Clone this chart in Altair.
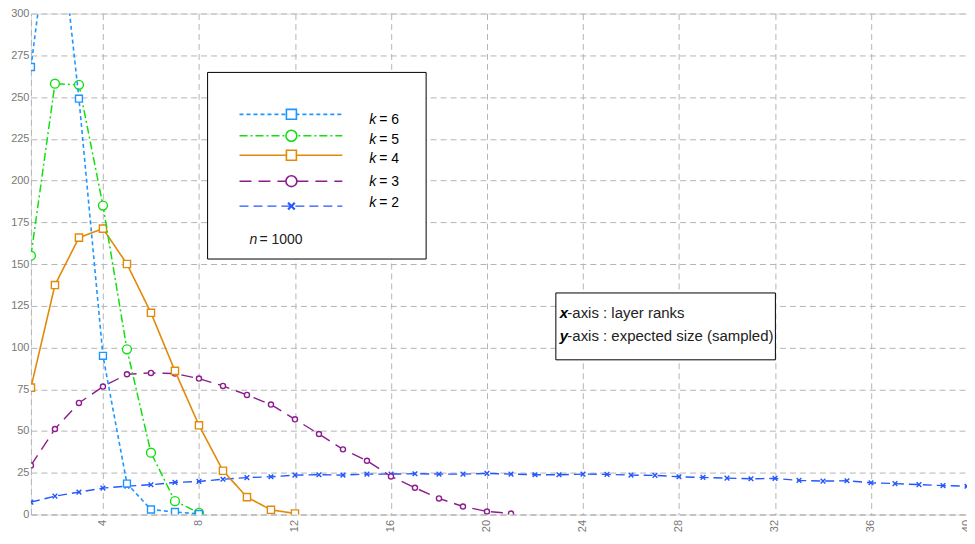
import altair as alt
import pandas as pd

# ---------------- data ----------------
ranks_k2 = list(range(1, 41))
size_k2 = [7.4, 11.0, 13.4, 15.8, 17.0, 17.8, 19.2, 19.8, 21.1, 22.1,
           22.6, 23.6, 23.8, 23.6, 24.2, 24.2, 24.4, 24.2, 24.2, 24.6,
           24.2, 23.8, 23.8, 24.2, 24.0, 23.6, 23.4, 22.6, 22.2, 21.8,
           21.4, 21.6, 20.4, 20.0, 20.2, 19.0, 18.5, 17.9, 17.3, 16.9]

ranks_k3 = list(range(1, 22))
size_k3 = [29.4, 51.2, 66.8, 76.6, 84.0, 84.8, 84.4, 81.4, 77.0, 71.6,
           65.8, 57.0, 48.2, 39.0, 32.2, 22.8, 16.0, 9.6, 4.8, 1.8, 0.6]

ranks_k4 = list(range(1, 13))
size_k4 = [76.0, 137.4, 165.8, 171.2, 150.0, 120.8, 86.0, 53.4, 26.2, 10.4, 2.8, 0.6]

ranks_k5 = list(range(1, 9))
size_k5 = [155.0, 258.0, 257.3, 185.0, 98.9, 37.0, 8.0, 1.0]

ranks_k6 = list(range(1, 9))
size_k6 = [268.0, 380.0, 249.0, 95.0, 18.5, 3.0, 1.5, 0.3]

x_ticks = [4, 8, 12, 16, 20, 24, 28, 32, 36, 40]
y_ticks = [0, 25, 50, 75, 100, 125, 150, 175, 200, 225, 250, 275, 300]

legend_labels = ["6", "5", "4", "3", "2"]
n_label = "1000"

XPATH = "M-1,-1L1,1M-1,1L1,-1"
FONT = "Liberation Sans"
GRID = "#b5b5b5"

styles = {
    "2": dict(x=ranks_k2, y=size_k2, color="#2457FF", dash=[9, 5], shape=XPATH, size=22, lsize=45, sw=1.4),
    "3": dict(x=ranks_k3, y=size_k3, color="#8C1D8C", dash=[12, 7], shape="circle", size=26, lsize=120, sw=1.4),
    "4": dict(x=ranks_k4, y=size_k4, color="#E08A0A", dash=[1, 0], shape="square", size=52, lsize=100, sw=1.6),
    "5": dict(x=ranks_k5, y=size_k5, color="#10E010", dash=[8, 3, 2, 3], shape="circle", size=80, lsize=120, sw=1.5),
    "6": dict(x=ranks_k6, y=size_k6, color="#1E96FF", dash=[4, 3], shape="square", size=48, lsize=100, sw=1.6),
}

xscale = alt.Scale(domain=[1, 40], nice=False, zero=False)
yscale = alt.Scale(domain=[0, 300], nice=False)

xaxis = alt.Axis(values=x_ticks, labelAngle=270, title=None, grid=True,
                 gridDash=[6, 4], gridColor=GRID, gridWidth=1,
                 domainDash=[6, 4], domainColor=GRID, domainWidth=1,
                 ticks=False, labelColor="#777777", labelFontSize=11,
                 labelFont=FONT, labelPadding=5)
yaxis = alt.Axis(values=y_ticks, title=None, grid=True,
                 gridDash=[6, 4], gridColor=GRID, gridWidth=1,
                 domainDash=[6, 4], domainColor=GRID, domainWidth=1,
                 ticks=False, labelColor="#777777", labelFontSize=11,
                 labelFont=FONT, labelPadding=2)

layers = []
for key in ["2", "3", "4", "5", "6"]:
    s = styles[key]
    df = pd.DataFrame({"rank": s["x"], "size": s["y"]})
    base = alt.Chart(df).encode(
        x=alt.X("rank:Q", scale=xscale, axis=xaxis),
        y=alt.Y("size:Q", scale=yscale, axis=yaxis),
    )
    line = base.mark_line(color=s["color"], strokeDash=s["dash"],
                          strokeWidth=s["sw"], clip=True)
    pts = base.mark_point(shape=s["shape"], size=s["size"], fill="white",
                          stroke=s["color"], strokeWidth=1.4, opacity=1,
                          fillOpacity=1, clip=True)
    layers += [line, pts]

# ---------------- legend box (annotation) ----------------
one = pd.DataFrame({"a": [0]})
layers.append(alt.Chart(one).mark_rect(fill="white", stroke="black", strokeWidth=1).encode(
    x=alt.value(177), x2=alt.value(396), y=alt.value(59), y2=alt.value(246)))

row_line_y = [101, 122.5, 142, 168, 193]
row_text_y = [107, 127, 146, 169, 190]
for i, key in enumerate(legend_labels):
    s = styles[key]
    layers.append(alt.Chart(one).mark_rule(color=s["color"], strokeDash=s["dash"],
                                           strokeWidth=s["sw"]).encode(
        x=alt.value(209), x2=alt.value(312), y=alt.value(row_line_y[i])))
    layers.append(alt.Chart(one).mark_point(shape=s["shape"], size=s["lsize"], fill="white",
                                            stroke=s["color"],
                                            strokeWidth=2.2 if s["shape"] == XPATH else 1.6,
                                            opacity=1, fillOpacity=1).encode(
        x=alt.value(261), y=alt.value(row_line_y[i])))
    layers.append(alt.Chart(one).mark_text(text="k", font=FONT, fontSize=14, fontStyle="italic",
                                           align="left", baseline="middle", color="black").encode(
        x=alt.value(339), y=alt.value(row_text_y[i])))
    layers.append(alt.Chart(one).mark_text(text="= " + key, font=FONT, fontSize=14,
                                           align="left", baseline="middle", color="black").encode(
        x=alt.value(349), y=alt.value(row_text_y[i])))

layers.append(alt.Chart(one).mark_text(text="n", font=FONT, fontSize=14, fontStyle="italic",
                                       align="left", baseline="middle", color="#222222").encode(
    x=alt.value(219), y=alt.value(227)))
layers.append(alt.Chart(one).mark_text(text="= " + n_label, font=FONT, fontSize=14,
                                       align="left", baseline="middle", color="#222222").encode(
    x=alt.value(229), y=alt.value(227)))

# ---------------- axis description box ----------------
layers.append(alt.Chart(one).mark_rect(fill="white", stroke="black", strokeWidth=1).encode(
    x=alt.value(526), x2=alt.value(746), y=alt.value(280), y2=alt.value(347)))
desc = [("x", "-axis : layer ranks", 300), ("y", "-axis : expected size (sampled)", 323)]
for letter, rest, yy in desc:
    layers.append(alt.Chart(one).mark_text(text=letter, font=FONT, fontSize=15, fontStyle="italic",
                                           fontWeight="bold", align="left", baseline="middle",
                                           color="black").encode(
        x=alt.value(530), y=alt.value(yy)))
    layers.append(alt.Chart(one).mark_text(text=rest, font=FONT, fontSize=15,
                                           align="left", baseline="middle", color="#222222").encode(
        x=alt.value(537.5), y=alt.value(yy)))

chart = alt.layer(*layers).properties(
    width=938, height=502,
    autosize=alt.AutoSizeParams(type="none"),
    padding={"left": 23, "top": 5, "right": 0, "bottom": 20},
).configure_view(stroke=None).configure(background="white")

chart.save("out.html", embed_options={"renderer": "svg", "actions": False})
